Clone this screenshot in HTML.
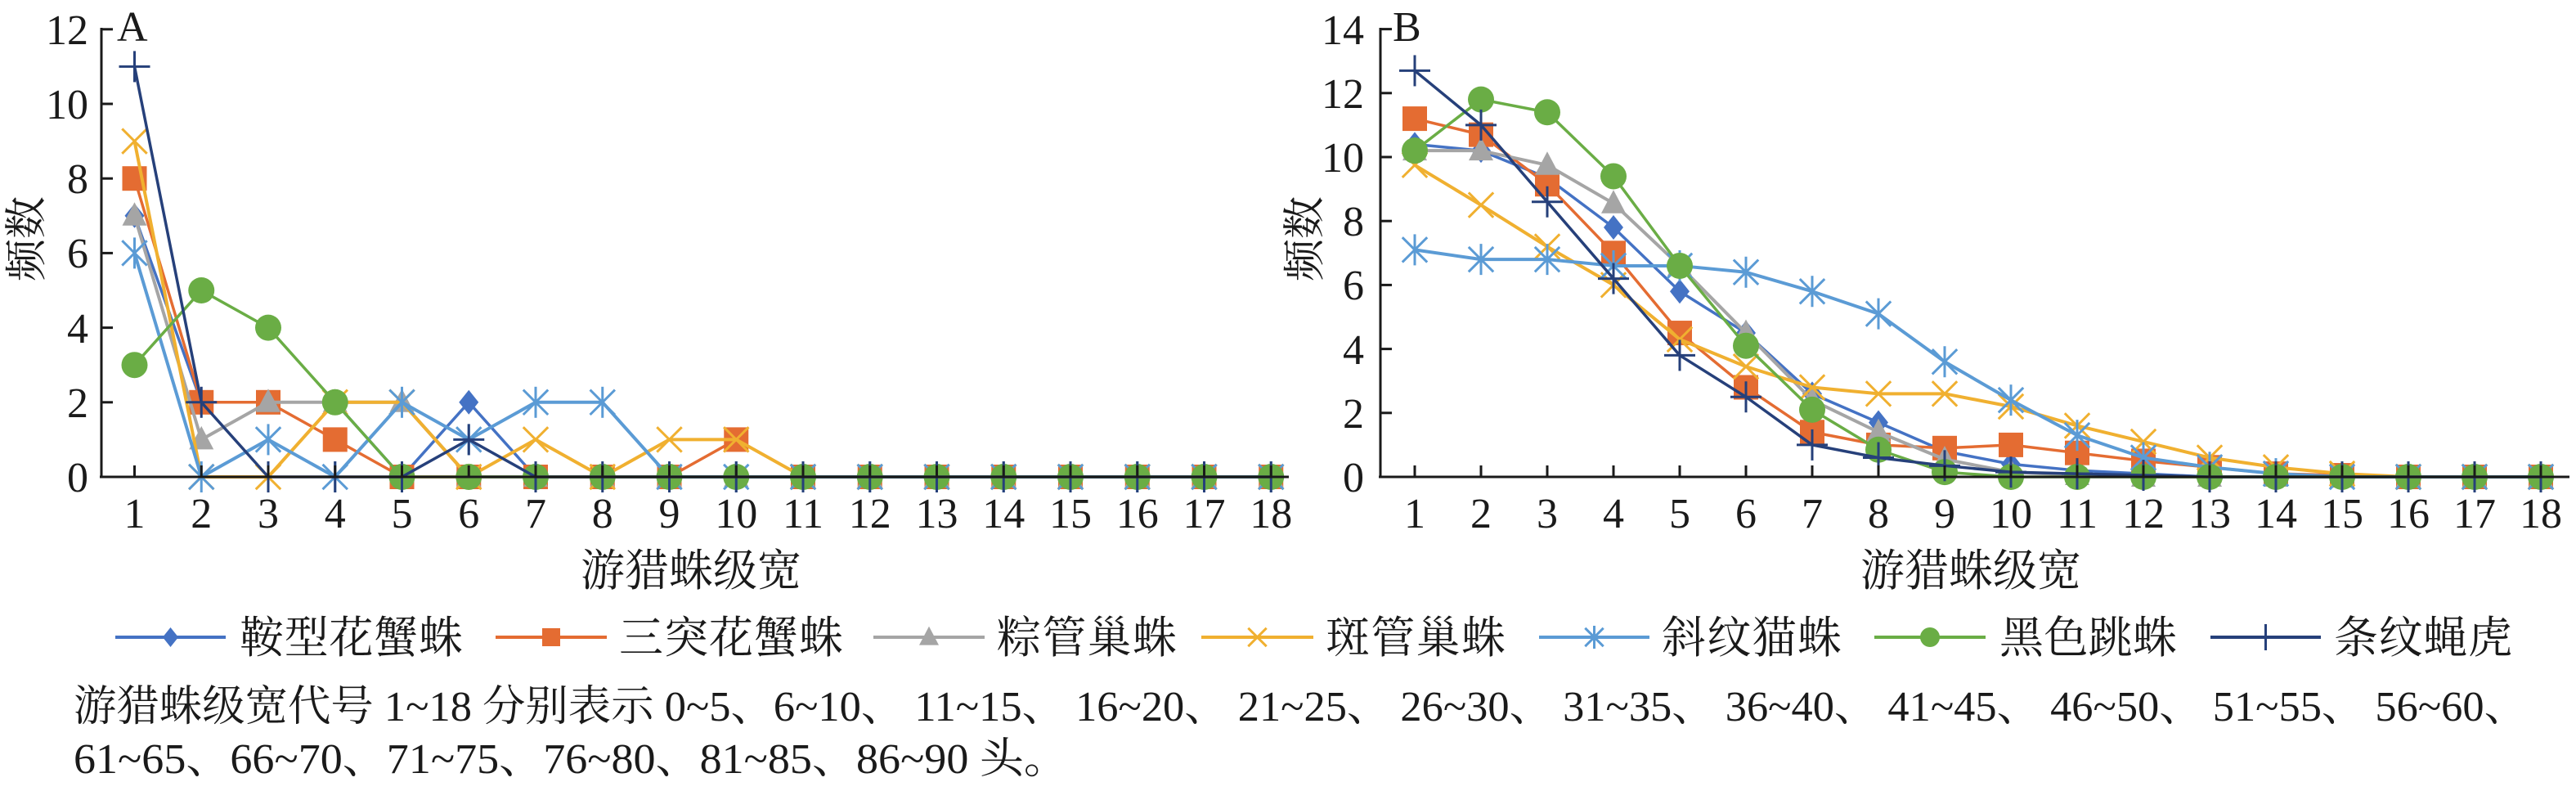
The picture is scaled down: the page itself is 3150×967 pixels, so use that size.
<!DOCTYPE html>
<html><head><meta charset="utf-8"><style>
html,body{margin:0;padding:0;background:#fff;}
svg{display:block;}
text{font-family:"Liberation Serif","Noto Serif CJK SC","Noto Sans CJK SC",serif;fill:#1a1a1a;}
</style></head><body>
<svg id="s" width="3150" height="967" viewBox="0 0 3150 967" xmlns="http://www.w3.org/2000/svg">
<g id="plots"></g>
<!-- Chart A axes -->
<g stroke="#1a1a1a" stroke-width="3" fill="none">
<line x1="124" y1="34" x2="124" y2="584"/>
<line x1="122" y1="583" x2="1576" y2="583"/>
<line x1="1688" y1="34" x2="1688" y2="584"/>
<line x1="1686" y1="583" x2="3142" y2="583"/>
</g>
<g id="ticks" stroke="#1a1a1a" stroke-width="3"></g>
<g font-size="52" text-anchor="end">
<text x="108" y="601">0</text><text x="108" y="510">2</text><text x="108" y="419">4</text>
<text x="108" y="327">6</text><text x="108" y="236">8</text><text x="108" y="145">10</text><text x="108" y="54">12</text>
<text x="1668" y="601">0</text><text x="1668" y="523">2</text><text x="1668" y="445">4</text>
<text x="1668" y="366">6</text><text x="1668" y="288">8</text><text x="1668" y="210">10</text>
<text x="1668" y="132">12</text><text x="1668" y="54">14</text>
</g>
<g id="xl" font-size="52" text-anchor="middle"></g>
<text x="143" y="50" font-size="52">A</text>
<text x="1703" y="50" font-size="52">B</text>
<text font-size="52" transform="translate(50,292) rotate(-90)" text-anchor="middle">频数</text>
<text font-size="52" transform="translate(1613,292) rotate(-90)" text-anchor="middle">频数</text>
<text x="845" y="716" font-size="54" text-anchor="middle">游猎蛛级宽</text>
<text x="2410" y="716" font-size="54" text-anchor="middle">游猎蛛级宽</text>
<g id="leg"></g>
<g font-size="54">
<text x="293" y="798" textLength="273">鞍型花蟹蛛</text>
<text x="757" y="798" textLength="274">三突花蟹蛛</text>
<text x="1219" y="798" textLength="220">粽管巢蛛</text>
<text x="1621" y="798" textLength="220">斑管巢蛛</text>
<text x="2032" y="798" textLength="220">斜纹猫蛛</text>
<text x="2445" y="798" textLength="217">黑色跳蛛</text>
<text x="2854" y="798" textLength="218">条纹蝇虎</text>
</g>
<text x="90" y="881" font-size="52" textLength="3000" lengthAdjust="spacingAndGlyphs">游猎蛛级宽代号 1~18 分别表示 0~5、6~10、 11~15、 16~20、 21~25、 26~30、 31~35、 36~40、 41~45、 46~50、 51~55、 56~60、</text>
<text x="90" y="945" font-size="52" textLength="1216" lengthAdjust="spacingAndGlyphs">61~65、66~70、71~75、76~80、81~85、86~90 头。</text>
</svg>
<script>
var NS="http://www.w3.org/2000/svg";
function el(p,t,a){var e=document.createElementNS(NS,t);for(var k in a)e.setAttribute(k,a[k]);p.appendChild(e);return e;}
var plots=document.getElementById('plots'),ticks=document.getElementById('ticks'),xl=document.getElementById('xl'),leg=document.getElementById('leg');
var xA=function(i){return 164.5+(i-1)*81.75},yA=function(v){return 583-v*45.6};
var xB=function(i){return 1730+(i-1)*81},yB=function(v){return 583-v*39.1};
for(var v=0;v<=12;v+=2)el(ticks,'line',{x1:124,y1:yA(v),x2:138,y2:yA(v)});
for(var v=0;v<=14;v+=2)el(ticks,'line',{x1:1688,y1:yB(v),x2:1702,y2:yB(v)});
for(var i=1;i<=18;i++){
 el(ticks,'line',{x1:xA(i),y1:569,x2:xA(i),y2:583});
 el(ticks,'line',{x1:xB(i),y1:569,x2:xB(i),y2:583});
 var t=el(xl,'text',{x:xA(i),y:645});t.textContent=i;
 t=el(xl,'text',{x:xB(i),y:645});t.textContent=i;
}
var cols=['#4472C4','#E46C32','#A5A5A5','#F0B030','#5B9BD5','#6AAD45','#26407A'];
var mk=['dia','sq','tri','x','star','circ','plus'];
var A=[
[7,2,2,2,0,2,0,0,0,0,0,0,0,0,0,0,0,0],
[8,2,2,1,0,0,0,0,0,1,0,0,0,0,0,0,0,0],
[7,1,2,2,2,0,0,0,0,0,0,0,0,0,0,0,0,0],
[9,0,0,2,2,0,1,0,1,1,0,0,0,0,0,0,0,0],
[6,0,1,0,2,1,2,2,0,0,0,0,0,0,0,0,0,0],
[3,5,4,2,0,0,0,0,0,0,0,0,0,0,0,0,0,0],
[11,2,0,0,0,1,0,0,0,0,0,0,0,0,0,0,0,0]];
var B=[
[10.4,10.2,9.35,7.8,5.8,4.5,2.6,1.7,0.8,0.4,0.2,0.1,0,0,0,0,0,0],
[11.2,10.7,9.15,7.0,4.5,2.8,1.4,1.0,0.9,1.0,0.75,0.5,0.3,0.1,0.05,0,0,0],
[10.2,10.2,9.75,8.55,6.6,4.5,2.4,1.4,0.55,0.15,0.05,0,0,0,0,0,0,0],
[9.75,8.5,7.2,6.0,4.3,3.45,2.8,2.6,2.6,2.2,1.6,1.1,0.6,0.3,0.1,0,0,0],
[7.1,6.8,6.8,6.6,6.6,6.4,5.8,5.1,3.6,2.4,1.3,0.6,0.3,0.1,0,0,0,0],
[10.2,11.8,11.4,9.4,6.6,4.1,2.1,0.85,0.15,0,0,0,0,0,0,0,0,0],
[12.7,11.0,8.6,6.2,3.8,2.5,1.0,0.6,0.35,0.15,0.1,0.05,0,0,0,0,0,0]];
function marker(g,type,x,y,c,s){
 if(type=='dia')el(g,'polygon',{points:[x,y-s,x+s*0.8,y,x,y+s,x-s*0.8,y].join(' '),fill:c});
 else if(type=='sq')el(g,'rect',{x:x-s,y:y-s,width:2*s,height:2*s,fill:c});
 else if(type=='tri')el(g,'polygon',{points:[x,y-s*1.1,x+s,y+s*0.8,x-s,y+s*0.8].join(' '),fill:c});
 else if(type=='circ')el(g,'circle',{cx:x,cy:y,r:s,fill:c});
 else{
  var a=s*0.8,w=3;
  if(type=='x'||type=='star'){el(g,'line',{x1:x-a,y1:y-a,x2:x+a,y2:y+a,stroke:c,'stroke-width':w});el(g,'line',{x1:x-a,y1:y+a,x2:x+a,y2:y-a,stroke:c,'stroke-width':w});}
  if(type=='star'||type=='plus')el(g,'line',{x1:x,y1:y-s,x2:x,y2:y+s,stroke:c,'stroke-width':w});
  if(type=='plus')el(g,'line',{x1:x-s,y1:y,x2:x+s,y2:y,stroke:c,'stroke-width':w});
 }
}
var sz={dia:15,sq:15,tri:15,x:19,star:19,circ:16,plus:19};
function draw(D,fx,fy){
 for(var s=0;s<7;s++){
  var g=el(plots,'g',{});
  var pts=D[s].map(function(v,i){return fx(i+1)+','+fy(v)}).join(' ');
  el(g,'polyline',{points:pts,fill:'none',stroke:cols[s],'stroke-width':(s==2||s==3||s==4)?4:3.5,'stroke-linejoin':'round'});
  D[s].forEach(function(v,i){marker(g,mk[s],fx(i+1),fy(v),cols[s],sz[mk[s]]);});
 }
}
draw(A,xA,yA);draw(B,xB,yB);
var L=[[141,276],[606,742],[1068,1204],[1469,1606],[1882,2017],[2292,2428],[2703,2838]];
var lsz={dia:12,sq:11,tri:12,x:14,star:14,circ:12,plus:16};
for(var s=0;s<7;s++){
 el(leg,'line',{x1:L[s][0],y1:779,x2:L[s][1],y2:779,stroke:cols[s],'stroke-width':4});
 marker(leg,mk[s],(L[s][0]+L[s][1])/2,779,cols[s],lsz[mk[s]]);
}
</script>
</body></html>
